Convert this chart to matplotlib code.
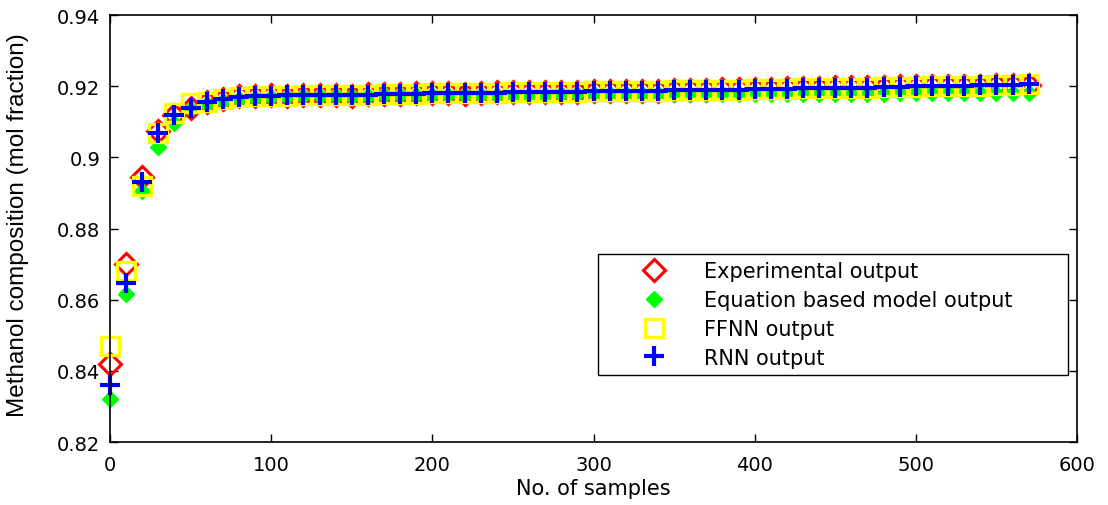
import numpy as np
import matplotlib
matplotlib.use('Agg')
import matplotlib.pyplot as plt
from matplotlib.lines import Line2D

plt.rcParams['font.family'] = ['DejaVu Sans']

# samples, every 10th point
samples = np.arange(0, 580, 10)

# experimental output
exp_out = [0.842, 0.870, 0.8945, 0.9075, 0.912, 0.914, 0.9155, 0.9165, 0.9172, 0.9172,
           0.9175, 0.9172, 0.9175, 0.9175, 0.9175, 0.9172, 0.9178, 0.9178, 0.9178, 0.918,
           0.918, 0.918, 0.9178, 0.9182, 0.9183, 0.9183, 0.9185, 0.9183, 0.9185, 0.9183,
           0.9187, 0.9188, 0.9188, 0.9188, 0.9188, 0.919, 0.919, 0.919, 0.9192, 0.9192,
           0.9193, 0.9192, 0.9195, 0.9195, 0.9195, 0.9197, 0.9197, 0.9198, 0.9198, 0.920,
           0.9202, 0.9202, 0.920, 0.9202, 0.9202, 0.9203, 0.9205, 0.9205]

# equation based model output
eq_out = [0.832, 0.8615, 0.8905, 0.903, 0.9097, 0.9135, 0.915, 0.916, 0.9165, 0.9168,
          0.917, 0.917, 0.9172, 0.9172, 0.9173, 0.9173, 0.9174, 0.9175, 0.9175, 0.9176,
          0.9176, 0.9176, 0.9176, 0.9177, 0.9177, 0.9177, 0.9177, 0.9177, 0.9178, 0.9178,
          0.9178, 0.9178, 0.9178, 0.9178, 0.9178, 0.9178, 0.9178, 0.9178, 0.9178, 0.9179,
          0.9179, 0.9179, 0.9179, 0.9179, 0.9179, 0.9179, 0.9179, 0.9179, 0.9179, 0.918,
          0.918, 0.918, 0.918, 0.918, 0.918, 0.918, 0.918, 0.918]

# FFNN output
ffnn_out = [0.847, 0.868, 0.892, 0.907, 0.9125, 0.9153, 0.9155, 0.9165, 0.917, 0.9172,
            0.9173, 0.9174, 0.9175, 0.9175, 0.9176, 0.9176, 0.9177, 0.9178, 0.9178, 0.9179,
            0.918, 0.918, 0.9181, 0.9182, 0.9182, 0.9183, 0.9184, 0.9184, 0.9185, 0.9185,
            0.9186, 0.9187, 0.9187, 0.9188, 0.9188, 0.9189, 0.919, 0.919, 0.9191, 0.9191,
            0.9192, 0.9193, 0.9193, 0.9194, 0.9194, 0.9195, 0.9196, 0.9196, 0.9197, 0.9198,
            0.9199, 0.92, 0.92, 0.9201, 0.9202, 0.9203, 0.9205, 0.9207]

# RNN output
rnn_out = [0.836, 0.8647, 0.893, 0.907, 0.912, 0.914, 0.9155, 0.9165, 0.917, 0.9172,
           0.9174, 0.9175, 0.9175, 0.9176, 0.9176, 0.9177, 0.9177, 0.9178, 0.9178, 0.9179,
           0.918, 0.918, 0.9181, 0.9182, 0.9182, 0.9183, 0.9184, 0.9184, 0.9185, 0.9185,
           0.9186, 0.9187, 0.9187, 0.9188, 0.9188, 0.9189, 0.919, 0.919, 0.9191, 0.9191,
           0.9192, 0.9192, 0.9193, 0.9194, 0.9194, 0.9195, 0.9196, 0.9196, 0.9197, 0.9198,
           0.92, 0.92, 0.9201, 0.9202, 0.9203, 0.9204, 0.9205, 0.9206]

fig = plt.figure(figsize=(11.08, 5.06), dpi=100)
ax = fig.add_axes([0.0993, 0.1245, 0.8727, 0.8435])

ax.plot(samples, exp_out, 'D', mfc='none', mec='red', ms=11, mew=2.2, ls='none', clip_on=False)
ax.plot(samples, eq_out, 'D', color=(0, 1, 0), ms=8, ls='none', clip_on=False)
ax.plot(samples, ffnn_out, 's', mfc='none', mec='yellow', ms=13.5, mew=2.4, ls='none', clip_on=False)
ax.plot(samples, rnn_out, '+', color='blue', ms=14, mew=3, ls='none', clip_on=False)

ax.set_xlim(0, 600)
ax.set_ylim(0.82, 0.94)
ax.set_xticks(np.arange(0, 601, 100))
ax.set_yticks([0.82, 0.84, 0.86, 0.88, 0.9, 0.92, 0.94])
ax.set_yticklabels(['0.82', '0.84', '0.86', '0.88', '0.9', '0.92', '0.94'])
ax.tick_params(direction='in', top=True, right=True, labelsize=14, length=6, width=1)
ax.tick_params(axis='y', pad=7)
ax.tick_params(axis='x', pad=9)
for s in ax.spines.values():
    s.set_linewidth(1.2)

ax.set_xlabel('No. of samples', fontsize=15, labelpad=3)
ax.set_ylabel('Methanol composition (mol fraction)', fontsize=17.5, family='Liberation Sans')
ax.yaxis.set_label_coords(-0.084, 0.51)

handles = [
    Line2D([], [], marker='D', mfc='none', mec='red', ms=11, mew=2.2, ls='none'),
    Line2D([], [], marker='D', color=(0, 1, 0), ms=8, ls='none'),
    Line2D([], [], marker='s', mfc='none', mec='yellow', ms=13.5, mew=2.4, ls='none'),
    Line2D([], [], marker='+', color='blue', ms=14, mew=3, ls='none'),
]
labels = ['Experimental output', 'Equation based model output', 'FFNN output', 'RNN output']
leg = ax.legend(handles, labels, loc='lower left', bbox_to_anchor=(0.505, 0.157, 0.486, 0.288),
                mode='expand', fontsize=15, fancybox=False, edgecolor='black',
                framealpha=1, borderaxespad=0, handletextpad=0.07, labelspacing=0.42,
                borderpad=0.35, handlelength=4.67)
leg.get_frame().set_linewidth(1.0)

fig.savefig('out.png', dpi=100)
